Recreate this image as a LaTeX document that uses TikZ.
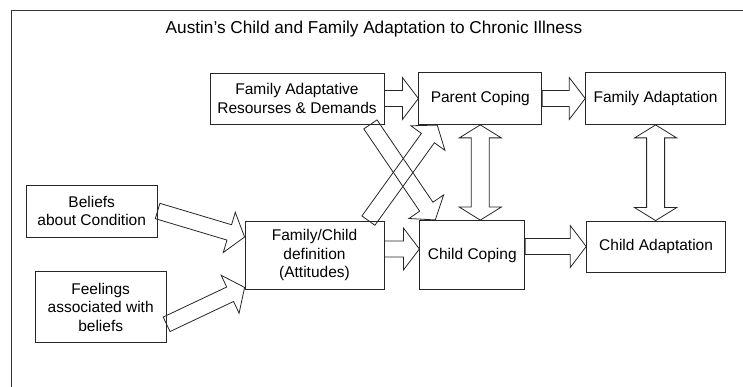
\documentclass[tikz,border=0pt]{standalone}
\usepackage{fontspec}
\setmainfont{Liberation Sans}
\usetikzlibrary{positioning,calc}

% hollow block arrow, tail -> tip
\newcommand{\fatarrow}[2]{%
  \draw[blockarrow] let \p1=#1, \p2=#2,
    \n1={atan2(\y2-\y1,\x2-\x1)}, \n2={veclen(\x2-\x1,\y2-\y1)} in
    [shift={(\p1)}, rotate=\n1]
    (0pt,-8pt) -- ({\n2-16pt},-8pt) -- ({\n2-16pt},-21pt) -- ({\n2},0pt)
    -- ({\n2-16pt},21pt) -- ({\n2-16pt},8pt) -- (0pt,8pt) -- cycle;}
% hollow block arrow with two heads
\newcommand{\dblarrow}[2]{%
  \draw[blockarrow] let \p1=#1, \p2=#2,
    \n1={atan2(\y2-\y1,\x2-\x1)}, \n2={veclen(\x2-\x1,\y2-\y1)} in
    [shift={(\p1)}, rotate=\n1]
    (0pt,0pt) -- (13pt,21pt) -- (13pt,9pt) -- ({\n2-13pt},9pt) -- ({\n2-13pt},21pt)
    -- ({\n2},0pt) -- ({\n2-13pt},-21pt) -- ({\n2-13pt},-9pt) -- (13pt,-9pt)
    -- (13pt,-21pt) -- cycle;}

\begin{document}
\begin{tikzpicture}[x=1pt,y=-1pt,
    box/.style={draw=black!85, line width=0.8pt, inner sep=0pt, align=center,
      font=\fontsize{15.5}{18.5}\selectfont},
    blockarrow/.style={draw=black!85, line width=0.8pt, line join=miter},
    frame/.style={draw=black!80, line width=1pt}]
    \useasboundingbox (0,0) rectangle (743,387);
    \draw[frame] (11,387) -- (11,11) -- (743,11);

    \node[anchor=base, font=\fontsize{17.2}{20}\selectfont] (title) at (374,34)
        {Austin's Child and Family Adaptation to Chronic Illness};

    % top row
    \node[box, minimum width=174pt, minimum height=51pt] (fad) at (297,98.5)
        {Family Adaptative\\Resourses \& Demands};
    \node[box, minimum width=123pt, minimum height=52pt, right=34pt of fad] (pc)
        {Parent Coping};
    \node[box, minimum width=140pt, minimum height=52pt, right=43pt of pc] (fam)
        {Family Adaptation};

    % bottom row
    \node[box, minimum width=139pt, minimum height=68pt] (fcd) at (314.5,255)
        {Family/Child\\definition\\(Attitudes)};
    \node[box, minimum width=105pt, minimum height=69pt, right=35pt of fcd] (cc)
        {Child Coping};
    \node[box, minimum width=139pt, minimum height=51pt, right=61pt of cc, yshift=8.5pt] (ca)
        {Child Adaptation};

    % left inputs
    \node[box, minimum width=131pt, minimum height=52pt, left=87pt of fcd, yshift=44pt] (bel)
        {Beliefs\\about Condition};
    \node[box, minimum width=131pt, minimum height=71pt, below=34pt of bel, xshift=9pt] (feel)
        {Feelings\\associated with\\beliefs};

    \fatarrow{(fad.east)}{(pc.west)}
    \fatarrow{(pc.east)}{(fam.west)}
    \fatarrow{([yshift=6pt]fcd.east)}{([yshift=6pt]cc.west)}
    \fatarrow{(cc.east |- ca.west)}{(ca.west)}
    \fatarrow{(bel.east)}{([yshift=18pt]fcd.west)}
    \fatarrow{([yshift=-17pt]feel.east)}{([yshift=2pt]fcd.south west)}
    \fatarrow{([xshift=-14pt]fad.south east)}{([xshift=16pt]cc.north west)}
    \fatarrow{([xshift=-16pt]fcd.north east)}{([xshift=19pt]pc.south west)}
    \dblarrow{(pc.south)}{(pc.south |- cc.north)}
    \dblarrow{(fam.south)}{(fam.south |- ca.north)}
\end{tikzpicture}
\end{document}
